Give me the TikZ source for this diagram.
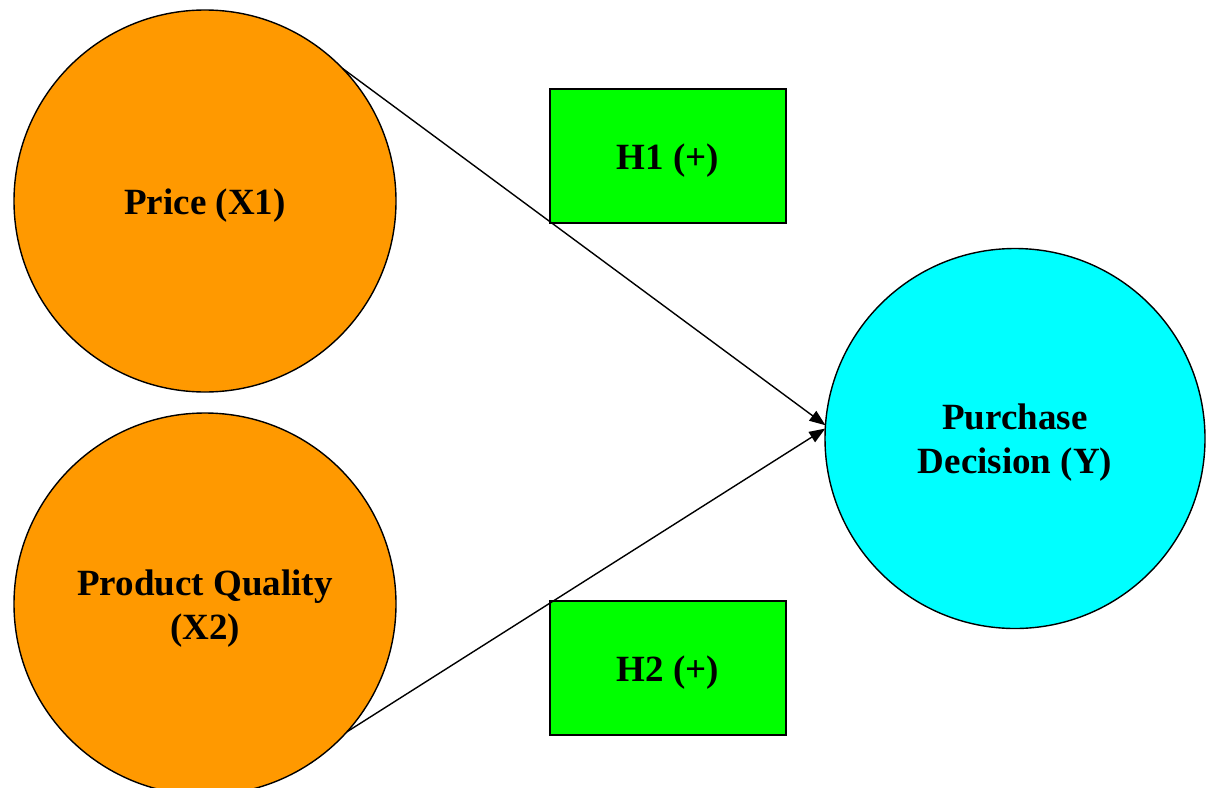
\documentclass[tikz,border=0pt]{standalone}
\usepackage{fontspec}
\setmainfont{Liberation Serif}
\usetikzlibrary{arrows.meta}
\definecolor{orangefill}{HTML}{FF9900}
\definecolor{cyanfill}{HTML}{00FFFF}
\definecolor{greenfill}{HTML}{00FF00}
\newcommand\shiftlbl[1]{\raisebox{-4.5pt}[\height][\depth]{\begin{tabular}{@{}c@{}}#1\end{tabular}}}
\tikzset{
  construct/.style={circle, draw=black, line width=1.4pt, inner sep=0pt, outer sep=0pt,
    font=\bfseries\fontsize{37}{44}\selectfont},
  hypbox/.style={rectangle, draw=black, line width=1.6pt, fill=greenfill, inner sep=0pt, outer sep=0pt,
    minimum width=236pt, minimum height=134pt, font=\bfseries\fontsize{37}{44}\selectfont},
  path/.style={line width=1.4pt, -{Triangle[length=16pt,width=12pt]}}
}
\begin{document}
\begin{tikzpicture}[x=1pt,y=-1pt]
\useasboundingbox (0,0) rectangle (1206,787);
\node[construct, fill=orangefill, minimum size=382pt] (price) at (205,201) {\shiftlbl{Price (X1)}};
\node[construct, fill=orangefill, minimum size=382pt] (quality) at (205,604) {\shiftlbl{Product Quality\\(X2)}};
\node[construct, fill=cyanfill, minimum size=380pt] (pd) at (1015,438.5) {\shiftlbl{Purchase\\Decision (Y)}};
\node[hypbox] (h1) at (668,156) {\shiftlbl{H1 (+)}};
\node[hypbox] (h2) at (668,668) {\shiftlbl{H2 (+)}};
\draw[path] (price.44.6) -- (pd.176.6);
\draw[path] (quality.-42.9) -- (pd.177.8);
\end{tikzpicture}
\end{document}
